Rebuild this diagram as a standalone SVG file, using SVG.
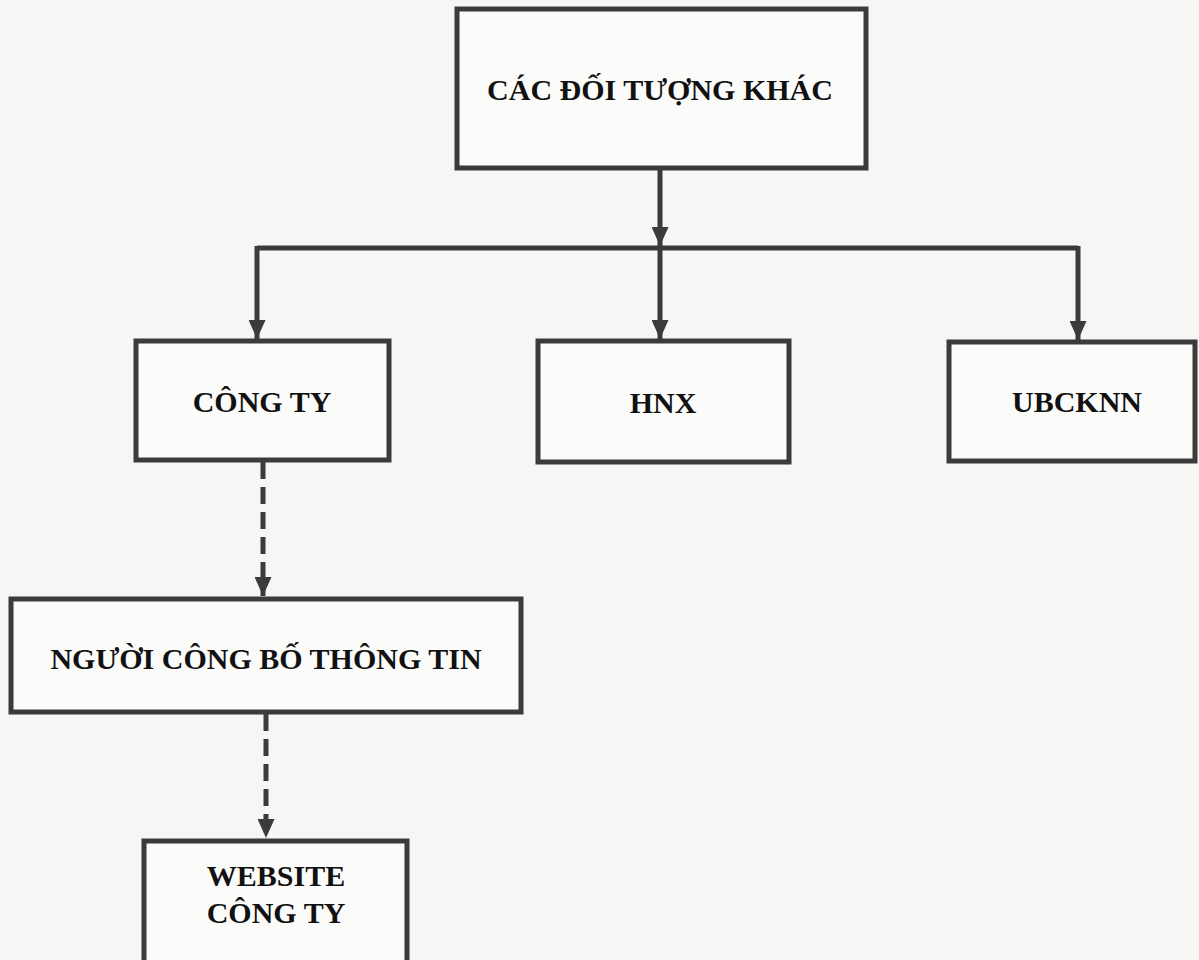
<svg xmlns="http://www.w3.org/2000/svg" width="1199" height="960" viewBox="0 0 1199 960">
<defs>
<marker id="arr" markerWidth="19" markerHeight="17" viewBox="0 0 19 17" refX="19" refY="8.5" orient="auto" markerUnits="userSpaceOnUse">
<path d="M0,0 L19,8.5 L0,17 Z" fill="#3b3b3b"/>
</marker>
<style>
.box{fill:#fbfbfa;stroke:#3b3b3b;stroke-width:5}
.lbl{font-family:"Liberation Serif","Times New Roman",serif;font-weight:bold;font-size:30px;fill:#111;text-anchor:middle}
.ln{fill:none;stroke:#3b3b3b;stroke-width:5}
.dash{stroke-dasharray:17 8}
</style>
</defs>
<rect width="1199" height="960" fill="#f6f6f4"/>
<g id="connectors">
<line class="ln" x1="660" y1="170" x2="660" y2="246" marker-end="url(#arr)"/>
<polyline class="ln" points="257,248 1078,248"/>
<line class="ln" x1="257" y1="246" x2="257" y2="339" marker-end="url(#arr)"/>
<line class="ln" x1="660" y1="248" x2="660" y2="339" marker-end="url(#arr)"/>
<line class="ln" x1="1078" y1="246" x2="1078" y2="340" marker-end="url(#arr)"/>
<line class="ln dash" x1="263" y1="462" x2="263" y2="596" marker-end="url(#arr)"/>
<line class="ln dash" x1="266" y1="714" x2="266" y2="838" marker-end="url(#arr)"/>
</g>
<g id="node-cac-doi-tuong">
<rect class="box" x="457" y="9" width="409" height="159"/>
<text class="lbl" x="660" y="100">CÁC ĐỐI TƯỢNG KHÁC</text>
</g>
<g id="node-cong-ty">
<rect class="box" x="136" y="341" width="253" height="119"/>
<text class="lbl" x="262" y="412">CÔNG TY</text>
</g>
<g id="node-hnx">
<rect class="box" x="538" y="341" width="251" height="121"/>
<text class="lbl" x="663" y="413">HNX</text>
</g>
<g id="node-ubcknn">
<rect class="box" x="949" y="342" width="246" height="119"/>
<text class="lbl" x="1077" y="412">UBCKNN</text>
</g>
<g id="node-nguoi-cbtt">
<rect class="box" x="11" y="599" width="510" height="113"/>
<text class="lbl" x="266" y="669">NGƯỜI CÔNG BỐ THÔNG TIN</text>
</g>
<g id="node-website">
<rect class="box" x="144" y="841" width="263" height="140"/>
<text class="lbl" x="276" y="886">WEBSITE</text>
<text class="lbl" x="276" y="923">CÔNG TY</text>
</g>
</svg>
